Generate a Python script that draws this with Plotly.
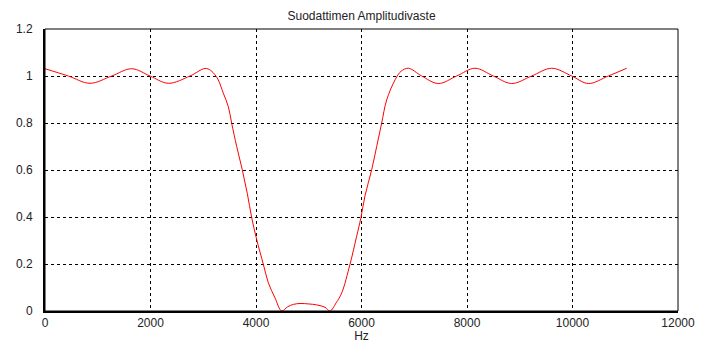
import plotly.graph_objects as go

freq_hz = [0, 442, 853, 1264, 1643, 1991, 2338, 2749, 3033, 3140, 3223, 3286, 3380, 3475,
           3539, 3634, 3740, 3835, 3918, 4013, 4139, 4234, 4360, 4487, 4600, 4708, 4834,
           5000, 5150, 5308, 5403, 5520, 5625, 5782, 5908, 5990, 6066, 6193, 6288, 6382,
           6477, 6640, 6750, 6888, 7141, 7456, 7805, 8152, 8499, 8847, 9226, 9605, 9985,
           10300, 10679, 11027]
amplitude = [1.031, 1.0, 0.969, 1.0, 1.031, 1.0, 0.969, 1.0, 1.032, 1.024, 1.005, 0.983,
             0.927, 0.870, 0.799, 0.700, 0.601, 0.500, 0.398, 0.304, 0.199, 0.120, 0.056,
             0.0, 0.018, 0.028, 0.032, 0.030, 0.026, 0.016, 0.0, 0.035, 0.077, 0.199, 0.318,
             0.398, 0.490, 0.601, 0.700, 0.799, 0.898, 0.985, 1.020, 1.033, 1.0, 0.968,
             1.0, 1.033, 1.0, 0.968, 1.0, 1.033, 1.0, 0.968, 1.0, 1.033]

x_ticks = [0, 2000, 4000, 6000, 8000, 10000, 12000]
y_ticks = [0, 0.2, 0.4, 0.6, 0.8, 1, 1.2]
y_tick_text = ["0", "0.2", "0.4", "0.6", "0.8", "1", "1.2"]

font_family = "Liberation Sans, Arial, sans-serif"

fig = go.Figure()
fig.add_trace(go.Scatter(
    x=freq_hz, y=amplitude, mode="lines",
    line=dict(color="#ff0000", width=1, shape="spline", smoothing=1.0),
    hoverinfo="skip", showlegend=False,
))

fig.update_layout(
    width=702, height=343,
    margin=dict(l=45, r=24, t=29, b=32, autoexpand=False),
    paper_bgcolor="white", plot_bgcolor="white",
    font=dict(family=font_family, size=12, color="#222222"),
    title=dict(text="Suodattimen Amplitudivaste", x=0.515, xanchor="center",
               y=0.955, yanchor="middle", font=dict(size=12, color="#222222")),
    xaxis=dict(range=[0, 12000], tickvals=x_ticks, ticktext=[str(v) for v in x_ticks],
               showgrid=True, gridcolor="black", griddash="dot", gridwidth=1,
               showline=True, linecolor="black", linewidth=2, mirror=False,
               ticks="", zeroline=False, automargin=False,
               title=dict(text="Hz", standoff=2, font=dict(size=12))),
    yaxis=dict(range=[0, 1.2], tickvals=y_ticks, ticktext=y_tick_text,
               showgrid=True, gridcolor="black", griddash="dot", gridwidth=1,
               showline=True, linecolor="black", linewidth=2, mirror=False,
               ticks="", zeroline=False, automargin=False, ticklabelstandoff=8),
    shapes=[dict(type="rect", xref="paper", yref="paper", x0=0, y0=0, x1=1, y1=1,
                 line=dict(color="black", width=1), layer="above")],
)

fig.write_html("out.html", config={"displayModeBar": False},
               post_script="document.body.style.margin='0px';")
